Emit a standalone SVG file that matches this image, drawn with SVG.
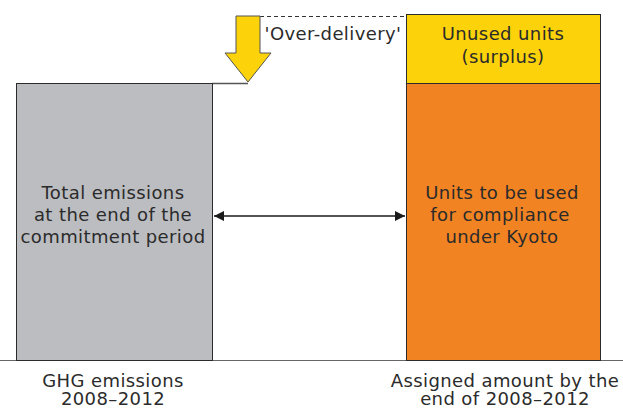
<svg xmlns="http://www.w3.org/2000/svg" width="623" height="408" viewBox="0 0 623 408">
<defs>
<style>
text{font-family:"DejaVu Sans","Verdana",sans-serif;font-size:18px;letter-spacing:0.4px;fill:#2b2b2b;text-anchor:middle}
.box{stroke:#2b2b2b;stroke-width:1}
</style>
<marker id="ah" viewBox="0 0 10 10" refX="10" refY="5" markerWidth="10" markerHeight="10" markerUnits="userSpaceOnUse" orient="auto-start-reverse"><path d="M0,0 L10,5 L0,10 z" fill="#1a1a1a"/></marker>
</defs>
<rect width="623" height="408" fill="#fff"/>
<g id="connectors">
<line x1="0" y1="360.5" x2="623" y2="360.5" stroke="#666" stroke-width="1.2"/>
<line x1="212" y1="83.5" x2="248" y2="83.5" stroke="#555" stroke-width="1.5"/>
<line x1="260" y1="16.5" x2="406" y2="16.5" stroke="#333" stroke-width="1" stroke-dasharray="4,3"/>
<line x1="214" y1="216" x2="405" y2="216" stroke="#1a1a1a" stroke-width="1.5" marker-start="url(#ah)" marker-end="url(#ah)"/>
</g>
<g id="ghg">
<rect class="box" x="16.5" y="83.5" width="196" height="277" fill="#bcbdc1"/>
<text x="113" y="199">Total emissions</text>
<text x="113" y="221">at the end of the</text>
<text x="113" y="243">commitment period</text>
<text x="113" y="387">GHG emissions</text>
<text x="113" y="405">2008–2012</text>
</g>
<g id="compliance">
<rect class="box" x="406.5" y="83.5" width="194" height="277" fill="#f28323"/>
<text x="502" y="199">Units to be used</text>
<text x="500" y="221">for compliance</text>
<text x="502" y="243">under Kyoto</text>
<text x="505" y="387">Assigned amount by the</text>
<text x="505" y="405">end of 2008–2012</text>
</g>
<g id="surplus">
<rect class="box" x="406.5" y="14.5" width="194" height="69" fill="#fcd20a"/>
<text x="503" y="40">Unused units</text>
<text x="503" y="63">(surplus)</text>
</g>
<g id="overdelivery">
<path d="M236,16 L260,16 L260,53 L271,53 L248,82 L225,53 L236,53 Z" fill="#fcd20a" stroke="#555" stroke-width="1"/>
<text x="333" y="40">'Over-delivery'</text>
</g>
</svg>
